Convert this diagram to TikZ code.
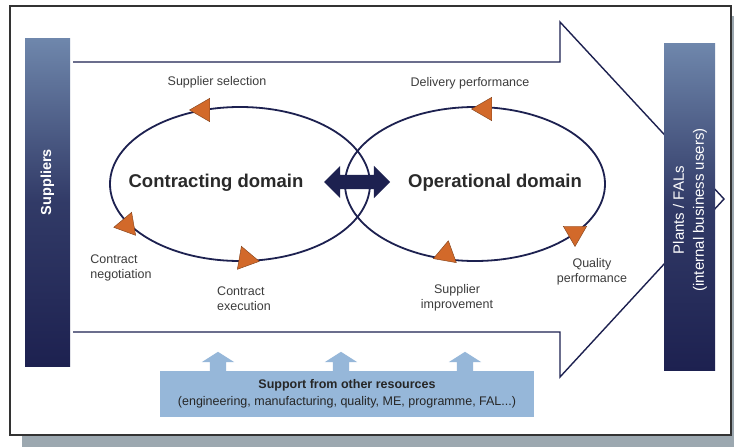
\documentclass[tikz,border=0pt]{standalone}
\usepackage{fontspec}
\setmainfont{Liberation Sans}
\usetikzlibrary{shapes.geometric,shapes.arrows}
\definecolor{navy}{HTML}{1D2150}
\definecolor{steel}{HTML}{6F87AC}
\definecolor{rust}{HTML}{D2692A}
\definecolor{sky}{HTML}{96B7D9}
\definecolor{slate}{HTML}{9CA8B0}
\definecolor{ink}{HTML}{3C3C3C}
\tikzset{
    bar/.style={rectangle, inner sep=0pt, top color=steel, bottom color=navy,
    	middle color=navy!75!steel}
}
\tikzset{
    ring/.style={ellipse, draw=navy, line width=1.8pt, minimum width=260pt,
    	minimum height=154pt, inner sep=0pt},
    cue/.style={regular polygon, regular polygon sides=3, fill=rust,
    	draw=rust!60!black, line width=0.4pt, minimum size=27pt, inner sep=0pt},
    stage/.style={font=\fontsize{12.5}{15}\selectfont, text=ink, inner sep=0pt},
    domaintext/.style={font=\fontsize{18.5}{22}\selectfont\bfseries, text=ink!70!black},
    uparrow/.style={single arrow, fill=sky, rotate=90, inner xsep=0pt, inner ysep=8pt,
    	minimum height=21pt, single arrow head extend=8pt,
    	single arrow tip angle=115, anchor=tail}
}
\pgfdeclarelayer{background}
\pgfsetlayers{background,main}

\begin{document}
\begin{tikzpicture}
	\useasboundingbox (0pt,0pt) rectangle (734pt,-447pt);
	\begin{pgfonlayer}{background}
		\fill[white] (0pt,0pt) rectangle (734pt,-447pt);
		\fill[slate] (22pt,-16pt) rectangle (734pt,-447pt);
		\draw[fill=white, draw=black!80, line width=1.2pt] (10pt,-6pt) rectangle (731pt,-435pt);
	\end{pgfonlayer}

	% support box with its three arrows
	\node (up1) [uparrow] at (218pt,-373pt) {};
	\node (up2) [uparrow] at (341pt,-373pt) {};
	\node (up3) [uparrow] at (465pt,-373pt) {};
	\node (support) [fill=sky, minimum width=374pt, minimum height=46pt, inner sep=0pt,
		align=center, font=\fontsize{12.5}{17}\selectfont, text=black!85] at (347pt,-394pt)
		{\textbf{Support from other resources}\\(engineering, manufacturing, quality, ME, programme, FAL...)};

	% big flow arrow, tip hidden behind the plants bar
	\draw[navy, line width=1.4pt, line join=miter] (73pt,-62pt) -- (560pt,-62pt) -- (560pt,-22pt)
		-- (724pt,-199pt) -- (560pt,-377pt) -- (560pt,-332pt) -- (73pt,-332pt);

	% the two domains
	\node (contracting) [ring] at (240pt,-184pt) {};
	\node (operational) [ring] at (475pt,-184pt) {};
	\node (ctext) [domaintext] at (216pt,-183pt) {Contracting domain};
	\node (otext) [domaintext] at (495pt,-183pt) {Operational domain};
	\node (link) [double arrow, fill=navy, inner xsep=0pt, inner ysep=7pt, minimum height=66pt,
		double arrow head extend=9pt] at (357pt,-182pt) {};

	\node (c1) [cue, rotate=90] at (203pt,-110pt) {};
	\node (c2) [cue, rotate=-20] at (127pt,-225pt) {};
	\node (c3) [cue, rotate=-100] at (246pt,-259pt) {};
	\node (o1) [cue, rotate=90] at (485pt,-109pt) {};
	\node (o2) [cue, rotate=-10] at (446pt,-254pt) {};
	\node (o3) [cue, rotate=180] at (575pt,-233pt) {};

	\node (selection) [stage] at (217pt,-82pt) {Supplier selection};
	\node (negotiation) [stage, align=left] at (121pt,-268pt) {Contract\\negotiation};
	\node (execution) [stage, align=left] at (244pt,-299pt) {Contract\\execution};
	\node (delivery) [stage] at (470pt,-83pt) {Delivery performance};
	\node (improvement) [stage, align=center] at (457pt,-298pt) {Supplier\\improvement};
	\node (quality) [stage, align=center] at (592pt,-272pt) {Quality\\performance};

	% end bars
	\node (suppliers) [bar, minimum width=45pt, minimum height=328pt] at (47.5pt,-202pt) {};
	\node [rotate=90, text=white, font=\fontsize{14.5}{17}\selectfont\bfseries]
		at (47.5pt,-182pt) {Suppliers};
	\node (plants) [bar, minimum width=51pt, minimum height=327pt] at (689.5pt,-206.5pt) {};
	\node [rotate=90, text=white, align=center, font=\fontsize{15}{20}\selectfont]
		at (690pt,-210pt) {Plants / FALs\\(internal business users)};
\end{tikzpicture}
\end{document}
